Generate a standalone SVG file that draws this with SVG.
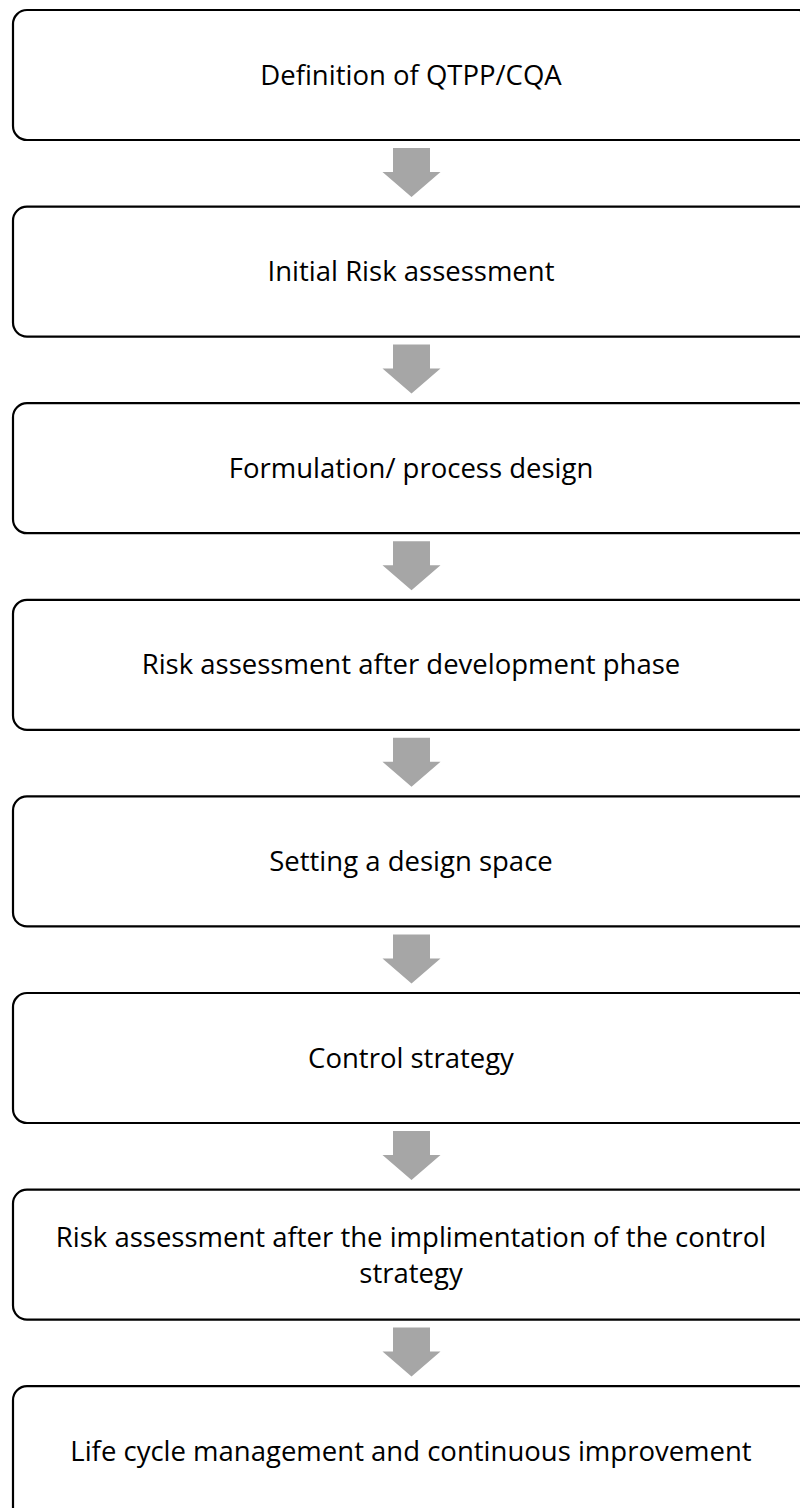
<svg xmlns="http://www.w3.org/2000/svg" width="800" height="1508" viewBox="0 0 800 1508">
  <defs>
    <style>
      .box { fill: #ffffff; stroke: #000000; stroke-width: 2.2; }
      .label { font-family: "Open Sans", "Noto Sans", "Liberation Sans", sans-serif; font-size: 27.5px; fill: #000000; text-anchor: middle; }
      .arrow { fill: #a6a6a6; }
    </style>
    <!-- block arrow pointing down, tip at origin -->
    <path id="down" d="M -18.5 -49 H 18.5 V -25 H 29 L 0 0 L -29 -25 H -18.5 Z"/>
  </defs>
  <rect width="800" height="1508" fill="#ffffff"/>

  <g id="connectors">
    <use href="#down" class="arrow" x="411.5" y="197"/>
    <use href="#down" class="arrow" x="411.5" y="393.6"/>
    <use href="#down" class="arrow" x="411.5" y="590.2"/>
    <use href="#down" class="arrow" x="411.5" y="786.8"/>
    <use href="#down" class="arrow" x="411.5" y="983.4"/>
    <use href="#down" class="arrow" x="411.5" y="1180"/>
    <use href="#down" class="arrow" x="411.5" y="1376.6"/>
  </g>

  <g id="step1">
    <rect class="box" x="13" y="10" width="800" height="130" rx="14"/>
    <text class="label" x="411" y="84.5">Definition of QTPP/CQA</text>
  </g>
  <g id="step2">
    <rect class="box" x="13" y="206.6" width="800" height="130" rx="14"/>
    <text class="label" x="411" y="281.1">Initial Risk assessment</text>
  </g>
  <g id="step3">
    <rect class="box" x="13" y="403.2" width="800" height="130" rx="14"/>
    <text class="label" x="411" y="477.7">Formulation/ process design</text>
  </g>
  <g id="step4">
    <rect class="box" x="13" y="599.8" width="800" height="130" rx="14"/>
    <text class="label" x="411" y="674.3">Risk assessment after development phase</text>
  </g>
  <g id="step5">
    <rect class="box" x="13" y="796.4" width="800" height="130" rx="14"/>
    <text class="label" x="411" y="870.9">Setting a design space</text>
  </g>
  <g id="step6">
    <rect class="box" x="13" y="993" width="800" height="130" rx="14"/>
    <text class="label" x="411" y="1067.5">Control strategy</text>
  </g>
  <g id="step7">
    <rect class="box" x="13" y="1189.6" width="800" height="130" rx="14"/>
    <text class="label" x="411" y="1247">Risk assessment after the implimentation of the control</text>
    <text class="label" x="411" y="1283">strategy</text>
  </g>
  <g id="step8">
    <rect class="box" x="13" y="1386.2" width="800" height="140" rx="14"/>
    <text class="label" x="411" y="1461">Life cycle management and continuous improvement</text>
  </g>
</svg>
